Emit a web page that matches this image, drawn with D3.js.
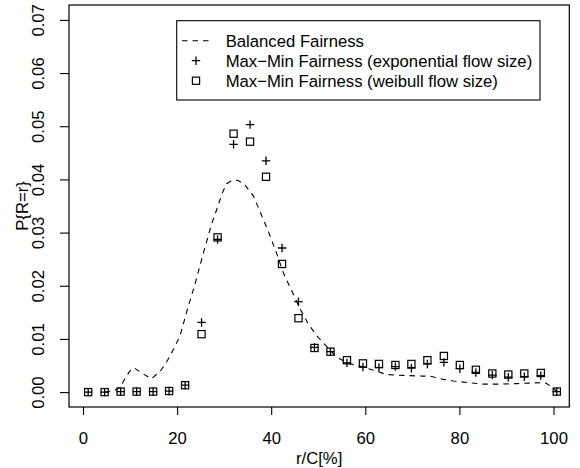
<!DOCTYPE html>
<html>
<head>
<meta charset="utf-8">
<script src="https://cdn.jsdelivr.net/npm/d3@7"></script>
<style>
  html, body { margin: 0; padding: 0; background: #fff; }
  svg { display: block; }
  text { font-family: "Liberation Sans", Arial, Helvetica, sans-serif; fill: #000; }
</style>
</head>
<body>
<svg id="chart" width="580" height="468"></svg>
<script>
// Rate share r/C (%) at which the simulated probabilities were estimated
const rateShare = [1.1, 4.6, 8.0, 11.4, 14.9, 18.3, 21.7, 25.2, 28.6, 32.0,
                   35.5, 38.9, 42.3, 45.8, 49.2, 52.6, 56.1, 59.5, 62.9, 66.4,
                   69.8, 73.2, 76.7, 80.1, 83.5, 87.0, 90.4, 93.8, 97.3, 100.7];

// Max-Min Fairness, exponential flow sizes
const maxMinExp = [0.0000, 0.0000, 0.0001, 0.0001, 0.0001, 0.0002, 0.0013, 0.0131, 0.0287, 0.0466,
                   0.0503, 0.0435, 0.0271, 0.0170, 0.0084, 0.0076, 0.0055, 0.0047, 0.0046, 0.0048,
                   0.0045, 0.0053, 0.0056, 0.0044, 0.0037, 0.0032, 0.0028, 0.0029, 0.0031, 0.0001];

// Max-Min Fairness, Weibull flow sizes
const maxMinWeib = [0.0000, 0.0000, 0.0001, 0.0001, 0.0001, 0.0002, 0.0013, 0.0109, 0.0291, 0.0486,
                    0.0471, 0.0405, 0.0241, 0.0139, 0.0083, 0.0076, 0.0060, 0.0054, 0.0053, 0.0051,
                    0.0053, 0.0060, 0.0068, 0.0051, 0.0042, 0.0035, 0.0033, 0.0035, 0.0036, 0.0001];

// Balanced Fairness (analytical curve)
const balancedX = [4.6, 6.5, 8.0, 9.0, 10.0, 10.8, 12.5, 14.5, 16.4,
                   17.8, 19.2, 20.6, 22.0, 23.8, 25.6, 27.4, 28.1, 29.5, 30.5,
                   31.9, 33.0, 34.4, 36.2, 37.6, 39.4, 41.2, 42.6, 44.4, 46.1,
                   47.9, 49.7, 51.1, 53.9, 56.4, 59.2, 62.5, 64.5, 66.6, 69.5,
                   72.3, 73.8, 76.6, 78.7, 81.6, 85.1, 88.6, 92.2, 95.0, 98.2,
                   99.6, 100.7];
const balancedY = [0.0000, 0.0002, 0.0010, 0.0027, 0.0040, 0.0046, 0.0036, 0.0025, 0.0039,
                   0.0057, 0.0080, 0.0105, 0.0150, 0.0203, 0.0262, 0.0318, 0.0335, 0.0372, 0.0392,
                   0.0399, 0.0398, 0.0390, 0.0369, 0.0340, 0.0302, 0.0260, 0.0224, 0.0190, 0.0157,
                   0.0128, 0.0106, 0.0092, 0.0066, 0.0054, 0.0048, 0.0039, 0.0033, 0.0032, 0.0031,
                   0.0030, 0.0030, 0.0024, 0.0021, 0.0018, 0.0015, 0.0015, 0.0016, 0.0017, 0.0018,
                   0.0010, 0.0001];

const xTicks = [0, 20, 40, 60, 80, 100];
const yTicks = [0.00, 0.01, 0.02, 0.03, 0.04, 0.05, 0.06, 0.07];

const legendLabels = ["Balanced Fairness",
                      "Max\u2212Min Fairness (exponential flow size)",
                      "Max\u2212Min Fairness (weibull flow size)"];

const FONT = 16.7;
const plot = { left: 69, right: 569.3, top: 5, bottom: 407 };

const svg = d3.select("#chart");
svg.append("rect").attr("width", 580).attr("height", 468).attr("fill", "#fff");

const x = d3.scaleLinear().domain([-2.976, 103.36]).range([plot.left, plot.right]);
const y = d3.scaleLinear().domain([-0.0028, 0.0728]).range([plot.bottom, plot.top]);

// x axis
const gx = svg.append("g")
  .attr("transform", `translate(0,${plot.bottom})`)
  .call(d3.axisBottom(x).tickValues(xTicks).tickSize(8).tickFormat(d3.format("d")));
gx.select(".domain").remove();
gx.selectAll(".tick line").attr("stroke", "#000").attr("stroke-width", 1.1);
gx.selectAll(".tick text")
  .attr("y", 37).attr("dy", 0)
  .style("font-size", FONT + "px")
  .style("font-family", "'Liberation Sans', Arial, sans-serif");

// y axis with labels running parallel to the axis
const gy = svg.append("g")
  .attr("transform", `translate(${plot.left},0)`)
  .call(d3.axisLeft(y).tickValues(yTicks).tickSize(9).tickFormat(d3.format(".2f")));
gy.select(".domain").remove();
gy.selectAll(".tick line").attr("stroke", "#000").attr("stroke-width", 1.1);
gy.selectAll(".tick text")
  .attr("transform", "rotate(-90)")
  .attr("x", 0).attr("y", -25).attr("dy", 0)
  .attr("text-anchor", "middle")
  .style("font-size", FONT + "px")
  .style("font-family", "'Liberation Sans', Arial, sans-serif");

// axis titles
svg.append("text")
  .attr("x", (plot.left + plot.right) / 2).attr("y", 464)
  .attr("text-anchor", "middle")
  .style("font-size", FONT + "px")
  .text("r/C[%]");
svg.append("text")
  .attr("transform", `translate(28,${(plot.top + plot.bottom) / 2}) rotate(-90)`)
  .attr("text-anchor", "middle")
  .style("font-size", FONT + "px")
  .text("P{R=r}");

// balanced fairness curve
const line = d3.line().x((d, i) => x(balancedX[i])).y(d => y(d));
svg.append("path")
  .datum(balancedY)
  .attr("d", line)
  .attr("fill", "none")
  .attr("stroke", "#000")
  .attr("stroke-width", 1.1)
  .attr("stroke-dasharray", "5.5,5");

// marker helpers
const PLUS = 4.2, SQ = 3.6;
function plusPath(cx, cy) {
  return `M${cx - PLUS},${cy}H${cx + PLUS}M${cx},${cy - PLUS}V${cy + PLUS}`;
}

// max-min exponential: plus signs
svg.append("g").selectAll("path")
  .data(maxMinExp)
  .join("path")
  .attr("d", (d, i) => plusPath(x(rateShare[i]), y(d)))
  .attr("stroke", "#000").attr("stroke-width", 1.3).attr("fill", "none");

// max-min weibull: open squares
svg.append("g").selectAll("rect")
  .data(maxMinWeib)
  .join("rect")
  .attr("x", (d, i) => x(rateShare[i]) - SQ)
  .attr("y", d => y(d) - SQ)
  .attr("width", SQ * 2).attr("height", SQ * 2)
  .attr("fill", "none").attr("stroke", "#000").attr("stroke-width", 1.2);

// plot frame
svg.append("rect")
  .attr("x", plot.left).attr("y", plot.top)
  .attr("width", plot.right - plot.left).attr("height", plot.bottom - plot.top)
  .attr("fill", "none").attr("stroke", "#000").attr("stroke-width", 1.2);

// legend
const lg = svg.append("g");
lg.append("rect")
  .attr("x", 176.7).attr("y", 20.7).attr("width", 363.3).attr("height", 79.3)
  .attr("fill", "#fff").attr("stroke", "#000").attr("stroke-width", 1.1);
const rowY = [40.7, 60.7, 80.7];
lg.append("line")
  .attr("x1", 182).attr("x2", 210).attr("y1", rowY[0]).attr("y2", rowY[0])
  .attr("stroke", "#000").attr("stroke-width", 1.1).attr("stroke-dasharray", "5.5,5");
lg.append("path")
  .attr("d", plusPath(196, rowY[1]))
  .attr("stroke", "#000").attr("stroke-width", 1.3).attr("fill", "none");
lg.append("rect")
  .attr("x", 196 - SQ).attr("y", rowY[2] - SQ).attr("width", SQ * 2).attr("height", SQ * 2)
  .attr("fill", "none").attr("stroke", "#000").attr("stroke-width", 1.2);
lg.selectAll("text.lab")
  .data(legendLabels)
  .join("text")
  .attr("class", "lab")
  .attr("x", 225.7)
  .attr("y", (d, i) => rowY[i] + 6)
  .style("font-size", FONT + "px")
  .text(d => d);
</script>
</body>
</html>
